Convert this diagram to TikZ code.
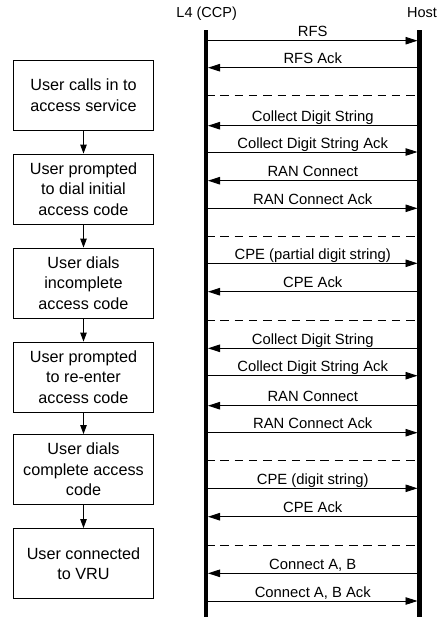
\documentclass[tikz,border=0pt]{standalone}
\usepackage{fontspec}
\setmainfont{Liberation Sans}
\usetikzlibrary{arrows.meta}
\begin{document}
\begin{tikzpicture}[x=1pt,y=-1pt,
  stepbox/.style={draw=black,line width=0.9pt,minimum width=140pt,minimum height=70pt,inner sep=0pt,align=center,font=\fontsize{16.2}{20.5}\selectfont},
  flow/.style={line width=0.9pt,-{Triangle[length=9pt,width=6.5pt]}},
  msg/.style={line width=0.9pt,-{Triangle[length=12pt,width=7.5pt]},shorten >=2pt,shorten <=2pt},
  sep/.style={line width=0.9pt,dash pattern=on 8.5pt off 5.8pt},
  life/.style={line width=4.2pt},
  lbl/.style={font=\fontsize{14.8}{17}\selectfont,anchor=base,inner sep=0pt,yshift=4pt},
  head/.style={font=\fontsize{14.5}{17}\selectfont,anchor=base,inner sep=0pt}]
\useasboundingbox (0,0) rectangle (444,623);
% headers
\node[head] (ccp) at (206.7,18) {L4 (CCP)};
\node[head] (host) at (422,18) {Host};
% left flow boxes
\node[stepbox] (b1) at (83.5,95) {User calls in to\\access service};
\node[stepbox] (b2) at (83.5,189) {User prompted\\to dial initial\\access code};
\node[stepbox] (b3) at (83.5,283) {User dials\\incomplete\\access code};
\node[stepbox] (b4) at (83.5,377) {User prompted\\to re-enter\\access code};
\node[stepbox] (b5) at (83.5,469.5) {User dials\\complete access\\code};
\node[stepbox] (b6) at (83.5,563.5) {User connected\\to VRU};
\foreach \a/\b in {b1/b2,b2/b3,b3/b4,b4/b5,b5/b6}
  \draw[flow] (\a.south) -- (\b.north);
% messages
\foreach \i/\y/\d/\t in {
  1/40.7/R/RFS,
  2/67.7/L/RFS Ack,
  3/125.7/L/Collect Digit String,
  4/152/R/Collect Digit String Ack,
  5/180.7/L/RAN Connect,
  6/208.3/R/RAN Connect Ack,
  7/263.3/R/CPE (partial digit string),
  8/291.7/L/CPE Ack,
  9/348.3/L/Collect Digit String,
  10/375.7/R/Collect Digit String Ack,
  11/405.7/L/RAN Connect,
  12/432.7/R/RAN Connect Ack,
  13/488.3/R/CPE (digit string),
  14/516.7/L/CPE Ack,
  15/573.3/L/{Connect A, B},
  16/601/R/{Connect A, B Ack}}
{
  \coordinate (ml\i) at (206,\y);
  \coordinate (mr\i) at (419.5,\y);
  \if\d R
    \draw[msg] (ml\i) -- node[lbl] {\t} (mr\i);
  \else
    \draw[msg] (mr\i) -- node[lbl] {\t} (ml\i);
  \fi
}
% dashed separators
\foreach \j/\y in {1/95,2/236.7,3/320,4/460.7,5/545.3}
{
  \coordinate (sl\j) at (206,\y);
  \coordinate (sr\j) at (419.5,\y);
  \draw[sep] (sl\j) -- (sr\j);
}
% lifelines
\coordinate (ccptop) at (206,30.5);
\coordinate (ccpbot) at (206,617);
\coordinate (hosttop) at (419.5,30.5);
\coordinate (hostbot) at (419.5,617);
\draw[life] (ccptop) -- (ccpbot);
\draw[life] (hosttop) -- (hostbot);
\end{tikzpicture}
\end{document}
